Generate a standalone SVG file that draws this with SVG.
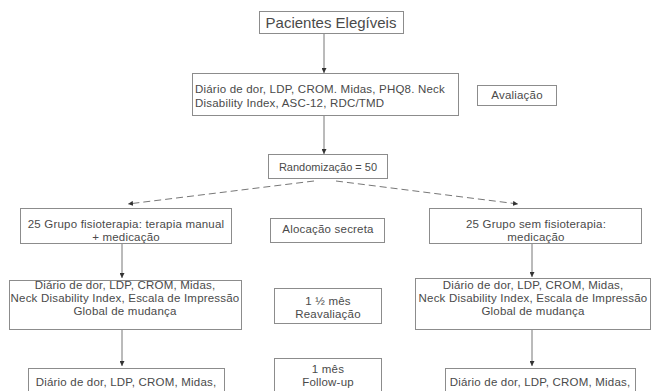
<svg xmlns="http://www.w3.org/2000/svg" width="651" height="391" viewBox="0 0 651 391">
<defs>
<marker id="ah" viewBox="0 0 10 10" refX="10" refY="5" markerWidth="5" markerHeight="5" orient="auto" markerUnits="userSpaceOnUse">
<path d="M0,0 L10,5 L0,10 z" fill="#333"/>
</marker>
</defs>
<style>
.box{fill:#fff;stroke:#8c8c8c;stroke-width:1}
.t{font-family:"Liberation Sans",Arial,sans-serif;font-size:11.5px;letter-spacing:0.2px;fill:#4a4a4a;text-anchor:middle}
.tl{font-family:"Liberation Sans",Arial,sans-serif;font-size:11.5px;letter-spacing:0.2px;fill:#4a4a4a}
.c{stroke:#777;stroke-width:1;fill:none}
.d{stroke:#777;stroke-width:1;fill:none;stroke-dasharray:7 4}
</style>
<rect width="651" height="391" fill="#fff"/>
<g id="connectors">
<line class="c" x1="324" y1="33" x2="324" y2="73" marker-end="url(#ah)"/>
<line class="c" x1="324" y1="115" x2="324" y2="154" marker-end="url(#ah)"/>
<line class="d" x1="314" y1="181" x2="128" y2="204" marker-end="url(#ah)"/>
<line class="d" x1="336" y1="181" x2="518" y2="204" marker-end="url(#ah)"/>
<line class="c" x1="122" y1="244" x2="122" y2="278" marker-end="url(#ah)"/>
<line class="c" x1="532" y1="244" x2="532" y2="277" marker-end="url(#ah)"/>
<line class="c" x1="122" y1="330" x2="122" y2="366" marker-end="url(#ah)"/>
<line class="c" x1="532" y1="330" x2="532" y2="366" marker-end="url(#ah)"/>
</g>
<g id="pacientes">
<rect class="box" x="259.5" y="11.5" width="144" height="22"/>
<text class="t" x="331" y="28" style="font-size:15px;letter-spacing:0">Pacientes Elegíveis</text>
</g>
<g id="avaliacao-inicial">
<rect class="box" x="192.5" y="73.5" width="266" height="42"/>
<text class="tl" x="195" y="93">Diário de dor, LDP, CROM. Midas, PHQ8. Neck</text>
<text class="tl" x="195" y="107">Disability Index, ASC-12, RDC/TMD</text>
</g>
<g id="avaliacao-label">
<rect class="box" x="477.5" y="85.5" width="79" height="20"/>
<text class="t" x="517" y="99">Avaliação</text>
</g>
<g id="randomizacao">
<rect class="box" x="268.5" y="154.5" width="119" height="24"/>
<text class="t" x="328" y="171" style="font-size:11px;letter-spacing:0">Randomização = 50</text>
</g>
<g id="grupo-fisio">
<rect class="box" x="20.5" y="208.5" width="211" height="35"/>
<text class="t" x="126" y="228">25 Grupo fisioterapia: terapia manual</text>
<text class="t" x="126" y="241">+ medicação</text>
</g>
<g id="alocacao">
<rect class="box" x="270.5" y="218.5" width="114" height="24"/>
<text class="t" x="328" y="233">Alocação secreta</text>
</g>
<g id="grupo-sem-fisio">
<rect class="box" x="429.5" y="208.5" width="212" height="35"/>
<text class="t" x="536" y="228">25 Grupo sem fisioterapia:</text>
<text class="t" x="536" y="241">medicação</text>
</g>
<g id="reav-esq">
<rect class="box" x="9.5" y="280.5" width="232" height="49"/>
<text class="t" x="125" y="289">Diário de dor, LDP, CROM, Midas,</text>
<text class="t" x="125" y="302">Neck Disability Index, Escala de Impressão</text>
<text class="t" x="125" y="315">Global de mudança</text>
</g>
<g id="reavaliacao">
<rect class="box" x="274.5" y="288.5" width="107" height="35"/>
<text class="t" x="328" y="305">1 ½ mês</text>
<text class="t" x="328" y="318">Reavaliação</text>
</g>
<g id="reav-dir">
<rect class="box" x="415.5" y="278.5" width="235" height="51"/>
<text class="t" x="533" y="289">Diário de dor, LDP, CROM, Midas,</text>
<text class="t" x="533" y="302">Neck Disability Index, Escala de Impressão</text>
<text class="t" x="533" y="315">Global de mudança</text>
</g>
<g id="follow-esq">
<rect class="box" x="28.5" y="368.5" width="196" height="40"/>
<text class="t" x="126" y="386">Diário de dor, LDP, CROM, Midas,</text>
</g>
<g id="followup">
<rect class="box" x="274.5" y="358.5" width="107" height="40"/>
<text class="t" x="328" y="373">1 mês</text>
<text class="t" x="328" y="386">Follow-up</text>
</g>
<g id="follow-dir">
<rect class="box" x="445.5" y="368.5" width="190" height="40"/>
<text class="t" x="540" y="386">Diário de dor, LDP, CROM, Midas,</text>
</g>
</svg>
